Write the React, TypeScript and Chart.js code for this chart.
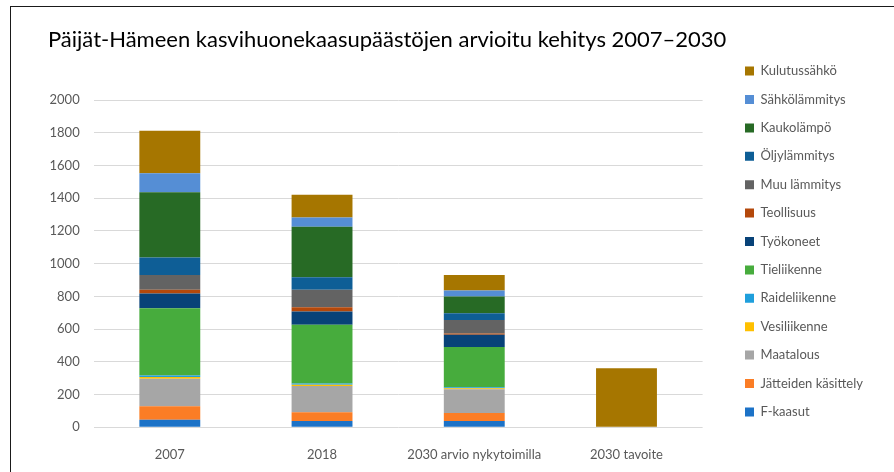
import React, { useEffect, useRef } from "react";
import { Chart, registerables } from "chart.js";

Chart.register(...registerables);

const TITLE = "Päijät-Hämeen kasvihuonekaasupäästöjen arvioitu kehitys 2007–2030";
const categories = ["2007", "2018", "2030 arvio nykytoimilla", "2030 tavoite"];

// Series, bottom of stack first
const fKaasut = [46, 39, 39, 0];
const jatteet = [82, 53, 48, 0];
const maatalous = [169, 161, 145, 0];
const vesiliikenne = [11, 7, 7, 0];
const raideliikenne = [8, 7, 6, 0];
const tieliikenne = [412, 359, 246, 0];
const tyokoneet = [89, 81, 74, 0];
const teollisuus = [23, 27, 8, 0];
const muuLammitys = [90, 106, 83, 0];
const oljylammitys = [107, 77, 41, 0];
const kaukolampo = [400, 308, 102, 0];
const sahkolammitys = [116, 57, 37, 0];
const kulutussahko = [259, 139, 95, 361];

const yTickMin = 0;
const yTickMax = 2000;
const yTickStep = 200;

const FONT = "Lato";

export default function App() {
  const ref = useRef<HTMLCanvasElement | null>(null);

  useEffect(() => {
    if (!ref.current) return;
    const series = [
      { label: "F-kaasut", data: fKaasut, color: "#1c72c7" },
      { label: "Jätteiden käsittely", data: jatteet, color: "#fb7d25" },
      { label: "Maatalous", data: maatalous, color: "#a6a6a6" },
      { label: "Vesiliikenne", data: vesiliikenne, color: "#ffc000" },
      { label: "Raideliikenne", data: raideliikenne, color: "#1f9fdc" },
      { label: "Tieliikenne", data: tieliikenne, color: "#47ac3d" },
      { label: "Työkoneet", data: tyokoneet, color: "#084278" },
      { label: "Teollisuus", data: teollisuus, color: "#b4480b" },
      { label: "Muu lämmitys", data: muuLammitys, color: "#636363" },
      { label: "Öljylämmitys", data: oljylammitys, color: "#0e5e96" },
      { label: "Kaukolämpö", data: kaukolampo, color: "#276a25" },
      { label: "Sähkölämmitys", data: sahkolammitys, color: "#558ed5" },
      { label: "Kulutussähkö", data: kulutussahko, color: "#a67600" },
    ];

    // measure longest legend text to place the legend column
    const mc = document.createElement("canvas").getContext("2d")!;
    mc.font = `13px ${FONT}`;
    const tw = Math.max(...series.map((s) => mc.measureText(s.label).width));
    const itemW = 9 + 6.5 + tw;
    const boxX = 745;
    const padR = Math.max(0, 894 - boxX - 10 - itemW);
    const plotLeft = 93.7;
    const plotRight = 702.6;
    const plotBottom = 427.3;
    const padL = 48;
    const legendPad = 15.4;

    const chart = new Chart(ref.current, {
      type: "bar",
      data: {
        labels: categories,
        datasets: series.map((s) => ({
          label: s.label,
          data: s.data,
          backgroundColor: s.color,
          borderWidth: 0,
          barPercentage: 0.4,
          categoryPercentage: 1,
        })),
      },
      options: {
        responsive: false,
        animation: false,
        layout: { padding: { left: padL, top: 11, right: padR, bottom: 0 } },
        plugins: {
          title: {
            display: true,
            text: TITLE,
            align: "start",
            color: "#000000",
            font: { family: FONT, size: 22, weight: "normal" },
            padding: { top: 16, bottom: 46.6 },
          },
          legend: {
            display: true,
            position: "right",
            align: "center",
            reverse: true,
            maxWidth: 400,
            labels: {
              boxWidth: 9,
              boxHeight: 9,
              padding: legendPad,
              color: "#595959",
              font: { family: FONT, size: 13 },
            },
          },
          tooltip: { enabled: false },
        },
        scales: {
          x: {
            stacked: true,
            grid: { display: false },
            border: { display: false },
            ticks: {
              color: "#595959",
              font: { family: FONT, size: 13 },
              padding: 12,
              maxRotation: 0,
            },
            afterFit: (s: any) => {
              s.height = 472 - plotBottom;
            },
          },
          y: {
            stacked: true,
            min: yTickMin,
            max: yTickMax,
            ticks: {
              stepSize: yTickStep,
              color: "#595959",
              font: { family: FONT, size: 13 },
              padding: 14,
              callback: (v: any) => String(v),
            },
            grid: { color: "#d9d9d9", drawTicks: false, lineWidth: 1 },
            border: { display: false },
            afterFit: (s: any) => {
              s.width = plotLeft - padL;
            },
          },
          yPad: {
            type: "linear",
            position: "right",
            display: true,
            grid: { display: false, drawTicks: false },
            border: { display: false },
            ticks: { display: false },
            afterFit: (s: any) => {
              s.width = boxX - legendPad - plotRight;
            },
          },
        },
      },
    });
    return () => chart.destroy();
  }, []);

  return (
    <div style={{ position: "fixed", left: 0, top: 0, width: 894, height: 472, background: "#fff" }}>
      <div
        style={{
          position: "absolute",
          left: 10,
          top: 6,
          right: -5,
          bottom: -5,
          borderTop: "1px solid #1a1a1a",
          borderLeft: "1px solid #1a1a1a",
        }}
      />
      <canvas
        ref={ref}
        width={894}
        height={472}
        style={{ position: "absolute", left: 0, top: 0, width: 894, height: 472 }}
      />
    </div>
  );
}
